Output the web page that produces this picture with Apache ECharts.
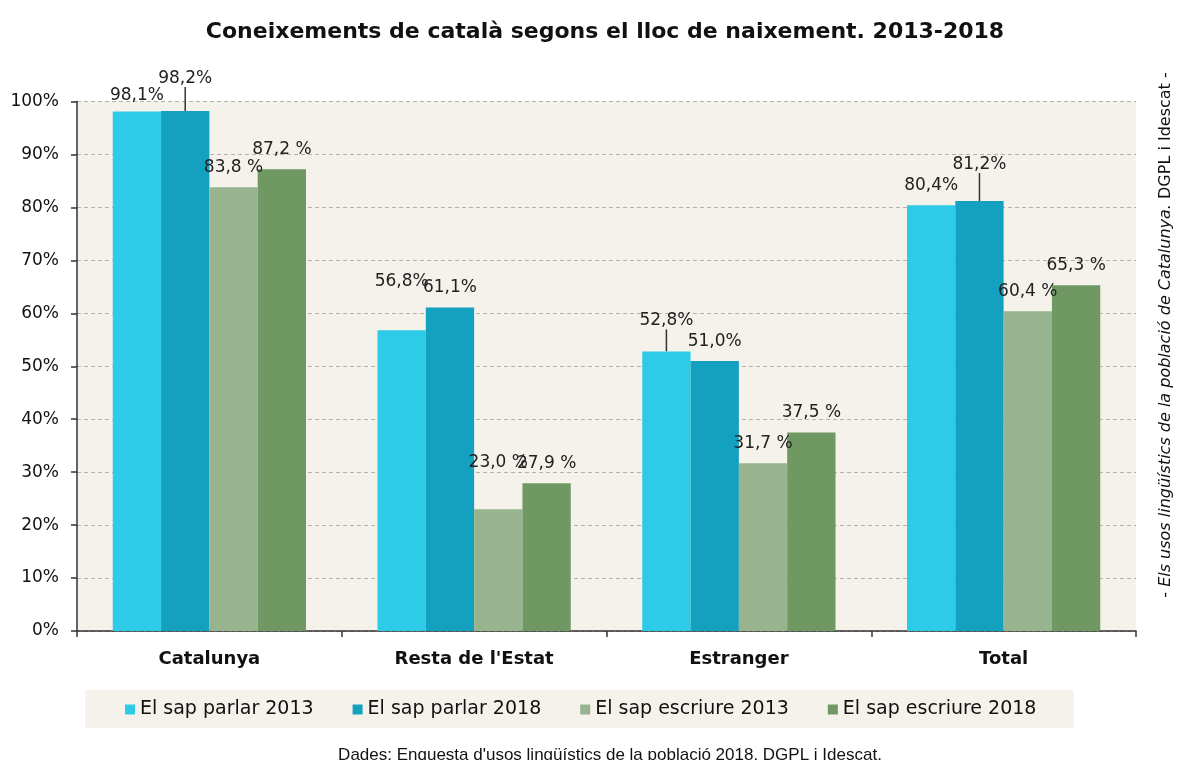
<!DOCTYPE html>
<html>
<head>
<meta charset="utf-8">
<script src="https://cdn.jsdelivr.net/npm/echarts@6/dist/echarts.min.js"></script>
<style>
  html, body { margin: 0; padding: 0; background: #fff; }
  #main { width: 1180px; height: 760px; }
</style>
</head>
<body>
<div id="main"></div>
<script>
// dades
var categories = ['Catalunya', "Resta de l'Estat", 'Estranger', 'Total'];
var parlar2013 = [98.1, 56.8, 52.8, 80.4];
var parlar2018 = [98.2, 61.1, 51.0, 81.2];
var escriure2013 = [83.8, 23.0, 31.7, 60.4];
var escriure2018 = [87.2, 27.9, 37.5, 65.3];
var yTicks = [0, 10, 20, 30, 40, 50, 60, 70, 80, 90, 100];

var colors = ['#2ecbe9', '#14a1c0', '#97b48e', '#6f9863'];
var labelFont = 'DejaVu Sans, Verdana, sans-serif';

// desplaçament extra d'algunes etiquetes (px cap amunt) i si porten línia guia
var lift = {
  0: [-4, 29, 11, 0],
  1: [13, 0, 0, 17],
  2: [0, 27, 0, 0],
  3: [0, 0, 0, 0]
};
var guide = {
  0: [false, false, true, false],
  1: [true, false, false, true],
  2: [false, false, false, false],
  3: [false, false, false, false]
};

function makeSeries(name, values, idx, sep) {
  return {
    name: name,
    type: 'bar',
    barGap: '0%',
    barCategoryGap: '27%',
    itemStyle: { color: colors[idx] },
    label: {
      show: true,
      position: 'top',
      distance: 11,
      fontFamily: labelFont,
      fontSize: 17,
      color: '#222',
      formatter: function (p) {
        return p.value.toFixed(1).replace('.', ',') + sep + '%';
      }
    },
    labelLine: { show: false, lineStyle: { color: '#333', width: 1.5 } },
    labelLayout: function (p) {
      return { dy: -lift[idx][p.dataIndex] };
    },
    data: values.map(function (v, i) {
      return {
        value: v,
        labelLine: { show: guide[idx][i], lineStyle: { color: '#333', width: 1.5 } }
      };
    })
  };
}

var chart = echarts.init(document.getElementById('main'));
chart.setOption({
  animation: false,
  title: [{
    text: 'Coneixements de català segons el lloc de naixement. 2013-2018',
    left: 600,
    textAlign: 'center',
    top: 16,
    textStyle: { fontFamily: labelFont, fontSize: 22, fontWeight: 'bold', color: '#111' }
  }, {
    text: "Dades: Enquesta d'usos lingüístics de la població 2018. DGPL i Idescat.",
    left: 605,
    textAlign: 'center',
    top: 742,
    textStyle: { fontFamily: 'Liberation Sans, sans-serif', fontSize: 17, fontWeight: 'normal', color: '#111' }
  }],
  grid: {
    left: 77, right: 44, top: 101.5, bottom: 129,
    show: true, backgroundColor: '#f5f1eb', borderWidth: 0
  },
  legend: {
    left: 85,
    top: 690,
    backgroundColor: '#f5f1eb',
    padding: [10, 37, 9, 40],
    itemGap: 39,
    itemWidth: 10,
    itemHeight: 10,
    icon: 'rect',
    textStyle: { fontFamily: labelFont, fontSize: 19, color: '#111' },
    data: ['El sap parlar 2013', 'El sap parlar 2018', 'El sap escriure 2013', 'El sap escriure 2018']
  },
  xAxis: {
    type: 'category',
    data: categories,
    axisLine: { lineStyle: { color: '#333', width: 1.5 } },
    axisTick: { show: true, length: 6, lineStyle: { color: '#333', width: 1.5 } },
    axisLabel: { fontFamily: labelFont, fontSize: 18, fontWeight: 'bold', color: '#111', margin: 19 }
  },
  yAxis: {
    type: 'value',
    min: yTicks[0],
    max: yTicks[yTicks.length - 1],
    interval: yTicks[1] - yTicks[0],
    axisLine: { show: true, lineStyle: { color: '#333', width: 1.5 } },
    axisTick: { show: true, length: 6, lineStyle: { color: '#333', width: 1.5 } },
    axisLabel: { fontFamily: labelFont, fontSize: 17, color: '#111', margin: 18, formatter: '{value}%' },
    splitLine: { lineStyle: { color: '#b5b2ad', type: [4, 3], width: 1 } }
  },
  graphic: [{
    type: 'text',
    x: 1166,
    y: 335,
    rotation: Math.PI / 2,
    style: {
      text: '- {i|Els usos lingüístics de la població de Catalunya.} DGPL i Idescat -',
      rich: {
        i: { fontStyle: 'italic', fontFamily: labelFont, fontSize: 16, fill: '#111' }
      },
      fontFamily: labelFont,
      fontSize: 16,
      fill: '#111',
      align: 'center',
      verticalAlign: 'middle'
    }
  }],
  series: [
    makeSeries('El sap parlar 2013', parlar2013, 0, ''),
    makeSeries('El sap parlar 2018', parlar2018, 1, ''),
    makeSeries('El sap escriure 2013', escriure2013, 2, ' '),
    makeSeries('El sap escriure 2018', escriure2018, 3, ' ')
  ]
});
</script>
</body>
</html>
